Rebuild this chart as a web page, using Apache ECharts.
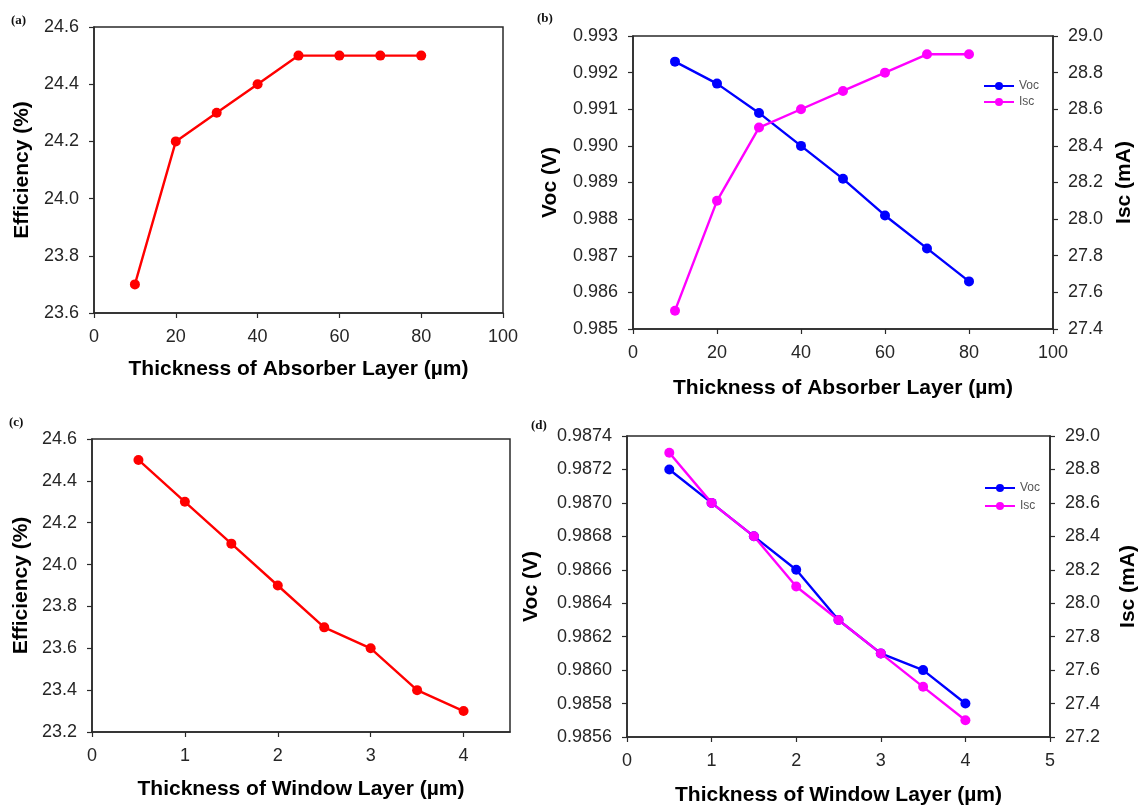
<!DOCTYPE html>
<html>
<head>
<meta charset="utf-8">
<title>Absorber and window layer thickness</title>
<script src="https://cdn.jsdelivr.net/npm/echarts@6/dist/echarts.min.js"></script>
<style>
  html, body { margin: 0; padding: 0; background: #ffffff; }
  #chart { width: 1140px; height: 807px; }
</style>
</head>
<body>
<div id="chart"></div>
<script>
// Absorber layer sweep (µm)
const absorberThickness = [10, 20, 30, 40, 50, 60, 70, 80];
const absorberEfficiency = [23.7, 24.2, 24.3, 24.4, 24.5, 24.5, 24.5, 24.5];
const absorberVoc = [0.9923, 0.9917, 0.9909, 0.9900, 0.9891, 0.9881, 0.9872, 0.9863];
const absorberIsc = [27.5, 28.1, 28.5, 28.6, 28.7, 28.8, 28.9, 28.9];

// Window layer sweep (µm)
const windowThickness = [0.5, 1, 1.5, 2, 2.5, 3, 3.5, 4];
const windowEfficiency = [24.5, 24.3, 24.1, 23.9, 23.7, 23.6, 23.4, 23.3];
const windowVoc = [0.9872, 0.9870, 0.9868, 0.9866, 0.9863, 0.9861, 0.9860, 0.9858];
const windowIsc = [28.9, 28.6, 28.4, 28.1, 27.9, 27.7, 27.5, 27.3];

// Axis ranges: [min, max, step]
const absorberXRange = [0, 100, 20];
const absorberEffRange = [23.6, 24.6, 0.2];
const absorberVocRange = [0.985, 0.993, 0.001];
const absorberIscRange = [27.4, 29.0, 0.2];
const windowXRangeC = [0, 4.5, 1];
const windowXRangeD = [0, 5, 1];
const windowEffRange = [23.2, 24.6, 0.2];
const windowVocRange = [0.9856, 0.9874, 0.0002];
const windowIscRange = [27.2, 29.0, 0.2];

const panelLabels = ['(a)', '(b)', '(c)', '(d)'];
const xTitles = ['Thickness of Absorber Layer (µm)', 'Thickness of Window Layer (µm)'];
const effTitle = 'Efficiency (%)';
const vocTitle = 'Voc (V)';
const iscTitle = 'Isc (mA)';
const seriesNames = ['Voc', 'Isc'];

const FONT = '"Liberation Sans", Arial, sans-serif';
const AXIS_COLOR = '#2a2a2a';
const LABEL_COLOR = '#262626';
const RED = '#ff0000', BLUE = '#0000ff', MAGENTA = '#ff00ff';

function pairs(xs, ys) { return xs.map((x, i) => [x, ys[i]]); }

function valueAxis(gridIndex, range, digits, extra) {
  return Object.assign({
    type: 'value',
    gridIndex: gridIndex,
    min: range[0], max: range[1], interval: range[2],
    splitLine: { show: false },
    axisLine: { show: true, onZero: false, lineStyle: { color: AXIS_COLOR, width: 1.5 } },
    axisTick: { show: true, inside: false, length: 5, lineStyle: { color: AXIS_COLOR, width: 1.2 } },
    axisLabel: {
      show: true, margin: 15, color: LABEL_COLOR, fontSize: 18, fontFamily: FONT,
      formatter: v => Number(v).toFixed(digits)
    },
    nameTextStyle: { color: '#000', fontSize: 21, fontWeight: 'bold', fontFamily: FONT },
    nameLocation: 'middle'
  }, extra || {});
}

function lineSeries(name, xi, yi, data, color) {
  return {
    name: name, type: 'line', xAxisIndex: xi, yAxisIndex: yi,
    data: data,
    symbol: 'circle', symbolSize: 10,
    lineStyle: { color: color, width: 2.4 },
    itemStyle: { color: color },
    emphasis: { disabled: true },
    animation: false, z: 3
  };
}

const grids = [
  { left: 94, top: 27, width: 409, height: 286 },
  { left: 633, top: 36, width: 420, height: 293 },
  { left: 92, top: 439, width: 418, height: 293 },
  { left: 627, top: 436, width: 429, height: 301 }
].map(g => Object.assign(g, { show: true, borderColor: AXIS_COLOR, borderWidth: 1.5, containLabel: false }));

const xAxes = [
  valueAxis(0, absorberXRange, 0, { name: xTitles[0], nameGap: 46 }),
  valueAxis(1, absorberXRange, 0, { name: xTitles[0], nameGap: 49 }),
  valueAxis(2, windowXRangeC, 0, { name: xTitles[1], nameGap: 47, axisLabel: {
    show: true, margin: 15, color: LABEL_COLOR, fontSize: 18, fontFamily: FONT,
    showMaxLabel: false, formatter: v => Number(v).toFixed(0) } }),
  valueAxis(3, windowXRangeD, 0, { name: xTitles[1], nameGap: 48 })
];

const yAxes = [
  valueAxis(0, absorberEffRange, 1, { name: effTitle, nameGap: 61, nameRotate: 90 }),
  valueAxis(1, absorberVocRange, 3, { name: vocTitle, nameGap: 72, nameRotate: 90 }),
  valueAxis(1, absorberIscRange, 1, { name: iscTitle, nameGap: 61, nameRotate: 90, position: 'right' }),
  valueAxis(2, windowEffRange, 1, { name: effTitle, nameGap: 60, nameRotate: 90 }),
  valueAxis(3, windowVocRange, 4, { name: vocTitle, nameGap: 85, nameRotate: 90 }),
  valueAxis(3, windowIscRange, 1, { name: iscTitle, nameGap: 68, nameRotate: 90, position: 'right' })
];

const series = [
  lineSeries('Efficiency (a)', 0, 0, pairs(absorberThickness, absorberEfficiency), RED),
  lineSeries(seriesNames[0], 1, 1, pairs(absorberThickness, absorberVoc), BLUE),
  lineSeries(seriesNames[1], 1, 2, pairs(absorberThickness, absorberIsc), MAGENTA),
  lineSeries('Efficiency (c)', 2, 3, pairs(windowThickness, windowEfficiency), RED),
  lineSeries(seriesNames[0], 3, 4, pairs(windowThickness, windowVoc), BLUE),
  lineSeries(seriesNames[1], 3, 5, pairs(windowThickness, windowIsc), MAGENTA)
];

function legendAt(left, top, gap) {
  return {
    data: seriesNames, orient: 'vertical', left: left, top: top,
    itemWidth: 30, itemHeight: 10, itemGap: gap, padding: 0,
    selectedMode: false,
    textStyle: { color: '#555555', fontSize: 12, fontFamily: FONT }
  };
}

const labelPos = [[11, 21], [537, 19], [9, 423], [531, 426]];
const graphic = panelLabels.map((t, i) => ({
  type: 'text', x: labelPos[i][0], y: labelPos[i][1],
  style: {
    text: t, fill: '#111', fontSize: 13, fontWeight: 'bold',
    fontFamily: '"Liberation Serif", "DejaVu Serif", serif', verticalAlign: 'middle'
  }
}));

const chart = echarts.init(document.getElementById('chart'), null, { renderer: 'canvas' });
chart.setOption({
  backgroundColor: '#ffffff',
  animation: false,
  grid: grids,
  xAxis: xAxes,
  yAxis: yAxes,
  legend: [legendAt(983, 80, 4), legendAt(984, 482, 6)],
  series: series,
  graphic: graphic
});
</script>
</body>
</html>
